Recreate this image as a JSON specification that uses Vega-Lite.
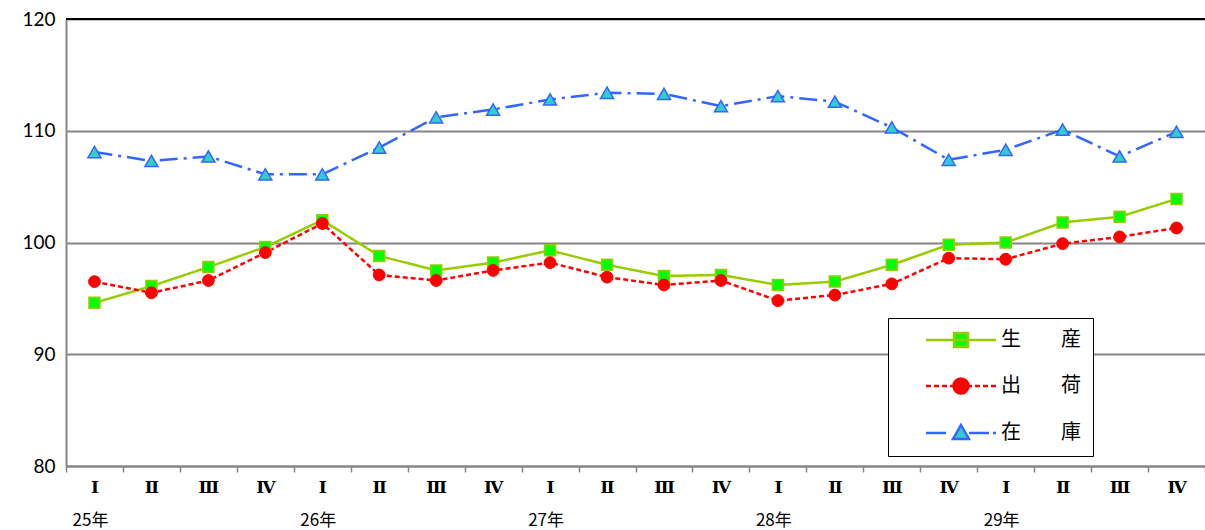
{
  "$schema": "https://vega.github.io/schema/vega-lite/v6.json",
  "width": 1139,
  "height": 447,
  "autosize": {"type": "none"},
  "padding": {"left": 66, "top": 19, "right": 0, "bottom": 64},
  "background": "white",
  "config": {"view": {"stroke": null}, "font": "Noto Sans CJK JP"},
  "data": {"values": [
    {"q": "25Ⅰ", "s": "生産", "v": 94.6}, {"q": "25Ⅱ", "s": "生産", "v": 96.1}, {"q": "25Ⅲ", "s": "生産", "v": 97.8}, {"q": "25Ⅳ", "s": "生産", "v": 99.6},
    {"q": "26Ⅰ", "s": "生産", "v": 102.0}, {"q": "26Ⅱ", "s": "生産", "v": 98.8}, {"q": "26Ⅲ", "s": "生産", "v": 97.5}, {"q": "26Ⅳ", "s": "生産", "v": 98.2},
    {"q": "27Ⅰ", "s": "生産", "v": 99.3}, {"q": "27Ⅱ", "s": "生産", "v": 98.0}, {"q": "27Ⅲ", "s": "生産", "v": 97.0}, {"q": "27Ⅳ", "s": "生産", "v": 97.1},
    {"q": "28Ⅰ", "s": "生産", "v": 96.2}, {"q": "28Ⅱ", "s": "生産", "v": 96.5}, {"q": "28Ⅲ", "s": "生産", "v": 98.0}, {"q": "28Ⅳ", "s": "生産", "v": 99.8},
    {"q": "29Ⅰ", "s": "生産", "v": 100.0}, {"q": "29Ⅱ", "s": "生産", "v": 101.8}, {"q": "29Ⅲ", "s": "生産", "v": 102.3}, {"q": "29Ⅳ", "s": "生産", "v": 103.9},
    {"q": "25Ⅰ", "s": "出荷", "v": 96.5}, {"q": "25Ⅱ", "s": "出荷", "v": 95.5}, {"q": "25Ⅲ", "s": "出荷", "v": 96.6}, {"q": "25Ⅳ", "s": "出荷", "v": 99.1},
    {"q": "26Ⅰ", "s": "出荷", "v": 101.7}, {"q": "26Ⅱ", "s": "出荷", "v": 97.1}, {"q": "26Ⅲ", "s": "出荷", "v": 96.6}, {"q": "26Ⅳ", "s": "出荷", "v": 97.5},
    {"q": "27Ⅰ", "s": "出荷", "v": 98.2}, {"q": "27Ⅱ", "s": "出荷", "v": 96.9}, {"q": "27Ⅲ", "s": "出荷", "v": 96.2}, {"q": "27Ⅳ", "s": "出荷", "v": 96.6},
    {"q": "28Ⅰ", "s": "出荷", "v": 94.8}, {"q": "28Ⅱ", "s": "出荷", "v": 95.3}, {"q": "28Ⅲ", "s": "出荷", "v": 96.3}, {"q": "28Ⅳ", "s": "出荷", "v": 98.6},
    {"q": "29Ⅰ", "s": "出荷", "v": 98.5}, {"q": "29Ⅱ", "s": "出荷", "v": 99.9}, {"q": "29Ⅲ", "s": "出荷", "v": 100.5}, {"q": "29Ⅳ", "s": "出荷", "v": 101.3},
    {"q": "25Ⅰ", "s": "在庫", "v": 108.1}, {"q": "25Ⅱ", "s": "在庫", "v": 107.3}, {"q": "25Ⅲ", "s": "在庫", "v": 107.7}, {"q": "25Ⅳ", "s": "在庫", "v": 106.1},
    {"q": "26Ⅰ", "s": "在庫", "v": 106.1}, {"q": "26Ⅱ", "s": "在庫", "v": 108.5}, {"q": "26Ⅲ", "s": "在庫", "v": 111.2}, {"q": "26Ⅳ", "s": "在庫", "v": 111.9},
    {"q": "27Ⅰ", "s": "在庫", "v": 112.8}, {"q": "27Ⅱ", "s": "在庫", "v": 113.4}, {"q": "27Ⅲ", "s": "在庫", "v": 113.3}, {"q": "27Ⅳ", "s": "在庫", "v": 112.2},
    {"q": "28Ⅰ", "s": "在庫", "v": 113.1}, {"q": "28Ⅱ", "s": "在庫", "v": 112.6}, {"q": "28Ⅲ", "s": "在庫", "v": 110.3}, {"q": "28Ⅳ", "s": "在庫", "v": 107.4},
    {"q": "29Ⅰ", "s": "在庫", "v": 108.3}, {"q": "29Ⅱ", "s": "在庫", "v": 110.1}, {"q": "29Ⅲ", "s": "在庫", "v": 107.7}, {"q": "29Ⅳ", "s": "在庫", "v": 109.9}
  ]},
  "encoding": {
    "x": {
      "field": "q", "type": "ordinal", "sort": null,
      "scale": {
        "type": "band", "paddingInner": 0, "paddingOuter": 0,
        "domain": ["25Ⅰ", "25Ⅱ", "25Ⅲ", "25Ⅳ", "26Ⅰ", "26Ⅱ", "26Ⅲ", "26Ⅳ", "27Ⅰ", "27Ⅱ", "27Ⅲ", "27Ⅳ", "28Ⅰ", "28Ⅱ", "28Ⅲ", "28Ⅳ", "29Ⅰ", "29Ⅱ", "29Ⅲ", "29Ⅳ"]
      },
      "axis": {
        "title": null, "tickBand": "extent", "labelAngle": 0,
        "labelExpr": "isValid(datum.value) ? substring(datum.value, 2) : ''",
        "labelFont": "DejaVu Serif", "labelFontSize": 17, "labelFontWeight": "bold", "labelColor": "#000000",
        "labelBaseline": "middle", "labelPadding": 15,
        "domainColor": "#868686", "domainWidth": 2,
        "tickColor": "#868686", "tickWidth": 1.5, "tickSize": 6, "grid": false
      }
    },
    "y": {
      "field": "v", "type": "quantitative",
      "scale": {"domain": [80, 120], "nice": false, "zero": false},
      "axis": {
        "title": null, "values": [80, 90, 100, 110, 120], "ticks": false,
        "labelFont": "Lato", "labelFontSize": 19, "labelColor": "#000000", "labelPadding": 11,
        "domainColor": "#868686", "domainWidth": 2,
        "grid": true, "gridColor": "#868686", "gridWidth": 2
      }
    }
  },
  "layer": [
    {
      "mark": {"type": "rule", "color": "#000000", "strokeWidth": 2},
      "encoding": {"x": null, "y": {"datum": 120}}
    },
    {
      "mark": {"type": "line", "strokeWidth": 2.5},
      "encoding": {
        "color": {"field": "s", "type": "nominal", "scale": {"domain": ["出荷", "在庫", "生産"], "range": ["#FF0000", "#3366FF", "#99CC00"]}, "legend": null},
        "strokeDash": {"field": "s", "type": "nominal", "scale": {"domain": ["出荷", "在庫", "生産"], "range": [[5, 3], [18, 6, 3, 6], [1, 0]]}, "legend": null}
      }
    },
    {
      "mark": {"type": "point", "filled": true, "opacity": 0, "strokeWidth": 2.5},
      "encoding": {
        "fill": {"field": "s", "type": "nominal", "scale": {"domain": ["生産", "出荷", "在庫"], "range": ["#00FF00", "#FF0000", "#33CCCC"]}},
        "stroke": {"field": "s", "type": "nominal", "scale": {"domain": ["生産", "出荷", "在庫"], "range": ["#99CC00", "#FF0000", "#3366FF"]}},
        "shape": {
          "field": "s", "type": "nominal",
          "scale": {"domain": ["生産", "出荷", "在庫"], "range": [
            "M-35,0L35,0M-7,-7h14v14h-14Z",
            "M-35,0h5M-27,0h5M-19,0h5M-11,0h4M7,0h4M14,0h5M22,0h5M30,0h5M-7.5,0a7.5,7.5 0 1,0 15,0a7.5,7.5 0 1,0 -15,0Z",
            "M-35,0h20M8,0h20M32,0h3M0,-8L8,6L-8,6Z"
          ]},
          "legend": {
            "title": null, "orient": "none", "direction": "vertical",
            "legendX": 822, "legendY": 299,
            "fillColor": "#FFFFFF", "strokeColor": "#000000", "padding": 12,
            "symbolSize": 4, "symbolStrokeWidth": 2.5, "symbolOpacity": 1, "symbolOffset": 51, "labelOffset": 30,
            "labelFont": "Noto Sans CJK JP", "labelFontSize": 20, "labelColor": "#000000", "rowPadding": 21,
            "labelExpr": "substring(datum.label, 0, 1) + '　　' + substring(datum.label, 1, 2)"
          }
        }
      }
    },
    {
      "transform": [{"filter": "datum.s === '生産'"}],
      "mark": {"type": "point", "shape": "square", "filled": true, "fill": "#00FF00", "stroke": "#99CC00", "strokeWidth": 1.5, "size": 121, "opacity": 1}
    },
    {
      "transform": [{"filter": "datum.s === '出荷'"}],
      "mark": {"type": "point", "shape": "circle", "filled": true, "fill": "#FF0000", "stroke": "#FF0000", "strokeWidth": 1, "size": 140, "opacity": 1}
    },
    {
      "transform": [{"filter": "datum.s === '在庫'"}],
      "mark": {"type": "point", "shape": "triangle-up", "filled": true, "fill": "#33CCCC", "stroke": "#3366FF", "strokeWidth": 1.5, "size": 170, "opacity": 1}
    },
    {
      "transform": [
        {"filter": "datum.s === '生産' && substring(datum.q, 2) === 'Ⅰ'"},
        {"calculate": "substring(datum.q, 0, 2) + '年'", "as": "yl"}
      ],
      "mark": {"type": "text", "font": "Noto Sans CJK JP", "fontSize": 17, "color": "#000000", "baseline": "middle", "dy": 55, "dx": -4},
      "encoding": {"y": {"datum": 80}, "text": {"field": "yl"}}
    }
  ]
}
